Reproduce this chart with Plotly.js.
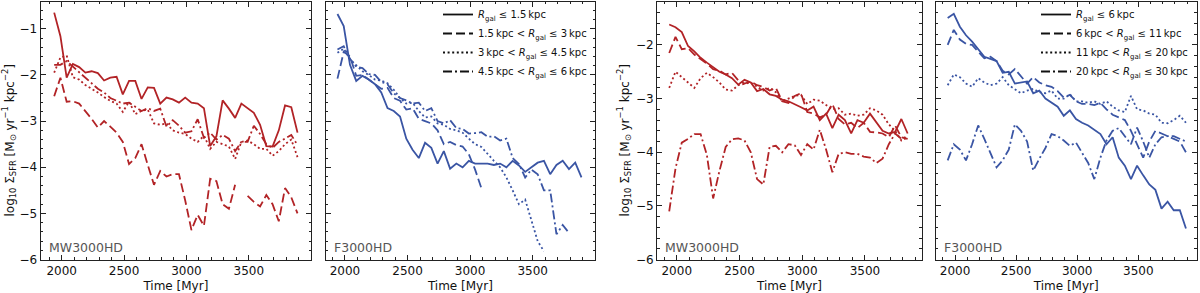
<!DOCTYPE html>
<html><head><meta charset="utf-8">
<script src="https://cdn.plot.ly/plotly-3.0.1.min.js"></script>
<style>html,body{margin:0;padding:0;background:#fff}#chart{width:1200px;height:293px}</style>
</head><body><div id="chart"></div>
<script>
// Time axis (Myr)
const timeA = [1940,1990,2040,2090,2140,2190,2240,2290,2340,2390,2440,2490,2540,2590,2640,2690,2740,2790,2840,2890,2940,2990,3040,3090,3140,3190,3240,3290,3340,3390,3440,3490,3540,3590,3640,3690,3740,3790,3840,3890];
const timeB = [1940,1990,2040,2090,2140,2190,2240,2290,2340,2390,2440,2490,2540,2590,2640,2690,2740,2790,2840,2890,2940,2990,3040,3090,3140,3190,3240,3290,3340,3390,3440,3490,3540,3590,3640,3690,3740,3790,3840];

// MW3000HD, inner radial bins (panel 1)
const mwInner_r1 = [-0.65,-1.16,-2.06,-1.76,-1.83,-1.95,-1.92,-1.96,-2.12,-2.06,-2.04,-2.42,-2.13,-2.13,-2.52,-2.27,-2.28,-2.62,-2.49,-2.53,-2.6,-2.49,-2.6,-2.62,-2.72,-3.54,-3.33,-2.55,-2.73,-2.93,-2.62,-2.72,-2.82,-3.08,-3.54,-3.55,-3.2,-2.66,-2.7,-3.25];
const mwInner_r2 = [-2.46,-2.06,-2.58,-2.57,-2.62,-2.78,-2.95,-3.14,-3.0,-3.12,-3.25,-3.45,-3.93,-3.8,-3.5,-3.95,-4.38,-4.08,-4.2,-4.15,-4.15,-4.72,-5.36,-5.03,-5.27,-4.25,-4.3,-4.8,-4.9,-4.38,null,-4.62,-4.75,-4.85,-4.6,-4.8,-5.17,-4.45,-4.65,-5.0];
const mwInner_r3 = [-1.95,-1.62,-1.58,-2.05,-2.1,-2.22,-2.3,-2.38,-2.48,-2.56,-2.62,-2.8,-2.58,-2.85,-2.78,-2.75,-3.05,-3.08,-3.05,-3.2,-3.25,-3.28,-3.38,-3.45,-3.32,-3.6,-3.45,-3.5,-3.55,-3.82,-3.45,-3.42,-3.5,-3.6,-3.6,-3.75,-3.65,-3.5,-3.4,-3.78];
const mwInner_r4 = [-1.78,-1.78,-1.7,-1.82,-1.95,-2.06,-2.17,-2.3,-2.38,-2.5,-2.56,-2.62,-2.6,-2.7,-2.78,-2.72,-2.78,-2.73,-3.12,-2.98,-3.1,-3.25,-3.22,-2.96,-3.36,-3.25,-3.4,-3.3,-3.38,-3.65,-3.45,-3.45,-3.1,-3.28,-3.5,-3.58,-3.45,-3.38,-3.3,-3.52];

// F3000HD, inner radial bins (panel 2)
const fInner_r1 = [-0.68,-0.94,-1.78,-2.13,-2.02,-2.1,-2.2,-2.38,-2.72,-2.78,-2.9,-3.38,-3.62,-3.8,-3.47,-3.58,-3.92,-3.65,-4.03,-3.92,-4.0,-3.86,-3.92,-3.92,-3.92,-3.95,-3.92,-4.0,-3.86,-3.96,-4.1,-4.0,-3.9,-3.86,-4.15,-3.95,-3.86,-4.04,-3.9,-4.22];
const fInner_r2 = [-2.08,-1.5,-1.6,-2.02,-2.0,-2.1,-2.2,-2.3,-2.28,-2.5,-2.56,-2.75,-2.72,-2.95,-3.0,-3.05,-3.2,-3.5,-3.45,-3.52,-3.55,-3.72,-4.05,-4.45,null,null,null,null,null,null,null,null,null,null,null,null,null,null,null,null];
const fInner_r3 = [-1.52,-1.43,-1.66,-1.8,-1.92,-2.0,-2.1,-2.12,-2.18,-2.32,-2.5,-2.62,-2.6,-2.78,-2.92,-2.9,-3.05,-3.08,-3.17,-3.2,-3.25,-3.38,-3.5,-3.56,-3.72,-3.86,-4.0,-4.22,-4.5,-4.8,-4.7,-5.15,-5.6,-5.82,null,null,null,null,null,null];
const fInner_r4 = [-1.45,-1.38,-1.65,-1.82,-1.85,-1.98,-2.0,-2.15,-2.2,-2.4,-2.5,-2.55,-2.62,-2.6,-2.78,-2.72,-3.0,-3.05,-2.98,-3.15,-3.17,-3.27,-3.26,-3.24,-3.34,-3.33,-3.42,-3.38,-3.8,-3.93,-4.22,-4.05,-4.15,-4.5,-4.5,-5.45,-5.25,-5.42,null,null];

// MW3000HD, outer radial bins (panel 3)
const mwOuter_r1 = [-1.62,-1.67,-1.76,-2.02,-2.12,-2.24,-2.33,-2.42,-2.5,-2.55,-2.62,-2.74,-2.65,-2.7,-2.86,-2.82,-2.92,-2.95,-3.02,-3.05,-3.1,-3.16,-3.22,-3.15,-3.4,-3.28,-3.55,-3.3,-3.4,-3.65,-3.4,-3.45,-3.28,-3.45,-3.6,-3.65,-3.62,-3.38,-3.65];
const mwOuter_r2 = [-2.15,-1.85,-2.08,-2.06,-2.18,-2.26,-2.35,-2.45,-2.48,-2.55,-2.52,-2.66,-2.72,-2.68,-2.75,-2.78,-2.85,-2.8,-3.05,-3.08,-2.95,-2.9,-3.25,-3.28,-3.35,-3.3,-3.1,-3.38,-3.48,-3.45,-3.55,-3.45,-3.62,-3.63,-3.65,-3.72,-3.5,-3.72,-3.75];
const mwOuter_r3 = [-2.8,-2.5,-2.6,-2.7,-2.8,-2.62,-2.52,-2.6,-2.7,-2.83,-2.85,-2.75,-2.72,-2.7,-2.78,-2.85,-2.8,-2.88,-3.05,-3.0,-2.95,-2.93,-3.1,-3.02,-3.04,-3.12,-3.2,-3.18,-3.3,-3.28,-3.32,-3.3,-3.18,-3.22,-3.3,-3.48,-3.6,-3.78,-3.72];
const mwOuter_r4 = [-5.1,-4.3,-3.82,-3.75,-3.66,-3.66,-4.05,-4.86,-4.35,-3.9,-3.76,-3.74,-3.78,-4.0,-4.5,-4.6,-3.9,-3.88,-4.0,-3.85,-3.87,-4.05,-3.85,-3.95,-3.58,-3.95,-4.37,-4.03,-4.0,-4.03,-4.03,-4.08,-4.1,-4.2,-4.12,-3.85,-3.65,-3.75,-3.7];

// F3000HD, outer radial bins (panel 4)
const fOuter_r1 = [-1.5,-1.42,-1.66,-1.82,-1.94,-2.08,-2.22,-2.26,-2.3,-2.52,-2.5,-2.72,-2.7,-2.68,-2.9,-2.85,-3.0,-3.08,-3.15,-3.32,-3.22,-3.38,-3.45,-3.5,-3.58,-3.66,-3.85,-3.72,-4.1,-4.25,-4.5,-4.25,-4.43,-4.6,-4.7,-5.05,-4.92,-5.08,-5.08,-5.42];
const fOuter_r2 = [-2.0,-1.72,-1.9,-1.98,-2.0,-2.12,-2.25,-2.22,-2.3,-2.48,-2.55,-2.45,-2.58,-2.72,-2.6,-2.7,-2.75,-2.78,-2.86,-2.98,-2.93,-3.05,-3.1,-3.1,-3.12,-3.08,-3.2,-3.3,-3.35,-3.4,-3.6,-3.85,-4.1,-3.8,-3.6,-3.65,-3.7,-3.75,-3.8,-4.0];
const fOuter_r3 = [-2.75,-2.55,-2.6,-2.72,-2.78,-2.62,-2.7,-2.75,-2.72,-2.6,-2.75,-2.82,-2.9,-2.85,-2.82,-2.88,-2.9,-2.85,-3.0,-3.0,-2.92,-3.05,-3.05,-3.08,-3.05,-3.1,-3.05,-3.15,-3.22,-3.25,-2.95,-3.2,-3.22,-3.28,-3.3,-3.45,-3.46,-3.4,-3.32,-3.45];
const fOuter_r4 = [-4.15,-3.85,-3.95,-4.15,-3.85,-3.5,-3.75,-4.0,-4.28,-4.15,-3.95,-3.48,-3.6,-3.8,-4.34,-4.12,-3.92,-3.66,-3.7,-3.78,-3.88,-3.82,-4.0,-4.2,-4.5,-4.1,-3.78,-3.6,-3.55,-3.7,-3.85,-3.54,-3.8,-4.1,-3.85,-3.72,-3.7,-3.7,-3.75,-3.8];

const innerLabels = [
  '<i>R</i><sub>gal</sub> ≤ 1.5\u2009kpc',
  '1.5\u2009kpc < <i>R</i><sub>gal</sub> ≤ 3\u2009kpc',
  '3\u2009kpc < <i>R</i><sub>gal</sub> ≤ 4.5\u2009kpc',
  '4.5\u2009kpc < <i>R</i><sub>gal</sub> ≤ 6\u2009kpc'
];
const outerLabels = [
  '<i>R</i><sub>gal</sub> ≤ 6\u2009kpc',
  '6\u2009kpc < <i>R</i><sub>gal</sub> ≤ 11\u2009kpc',
  '11\u2009kpc < <i>R</i><sub>gal</sub> ≤ 20\u2009kpc',
  '20\u2009kpc < <i>R</i><sub>gal</sub> ≤ 30\u2009kpc'
];
const panelNames = ['MW3000HD','F3000HD','MW3000HD','F3000HD'];

const RED = '#b22326', BLUE = '#3a55a4';
const DASHES = ['solid','9px,4px','2px,2.6px','9px,3px,2px,3px'];
const LW = 1.8;

const traces = [];
function addSeries(t, series, color, xa, ya) {
  series.forEach((s, i) => {
    traces.push({x: t, y: s, type: 'scatter', mode: 'lines', xaxis: xa, yaxis: ya,
      line: {color: color, width: LW, dash: DASHES[i]}, showlegend: false, hoverinfo: 'skip'});
  });
}
addSeries(timeA, [mwInner_r1, mwInner_r2, mwInner_r3, mwInner_r4], RED, 'x', 'y');
addSeries(timeA, [fInner_r1, fInner_r2, fInner_r3, fInner_r4], BLUE, 'x2', 'y2');
addSeries(timeB, [mwOuter_r1, mwOuter_r2, mwOuter_r3, mwOuter_r4], RED, 'x3', 'y3');
addSeries(timeA, [fOuter_r1, fOuter_r2, fOuter_r3, fOuter_r4], BLUE, 'x4', 'y4');

// legend entries (black line samples)
function addLegend(labels, xa, ya, lg) {
  labels.forEach((lab, i) => {
    traces.push({x: [null], y: [null], type: 'scatter', mode: 'lines', xaxis: xa, yaxis: ya,
      name: lab, legend: lg, line: {color: '#111', width: LW, dash: DASHES[i]}, showlegend: true});
  });
}
addLegend(innerLabels, 'x2', 'y2', 'legend');
addLegend(outerLabels, 'x4', 'y4', 'legend2');

const W = 1200, H = 293;
const yTop = 1 - 1/H, yBot = 1 - 259.5/H;
const panels = [
  {dom: [40.7/W, 311/W], xr: [1832, 3998], yr: [-6, -0.42], lab: true},
  {dom: [325.7/W, 595/W], xr: [1846, 3998], yr: [-6, -0.42], lab: false},
  {dom: [657.3/W, 921.7/W], xr: [1845, 3952], yr: [-6, -1.2], lab: true},
  {dom: [935.7/W, 1196.7/W], xr: [1842, 3978], yr: [-6, -1.2], lab: false}
];
const FONT = 'DejaVu Sans, sans-serif';
const AX = '#222';
const LEGFONT = {family: FONT, size: 10, color: '#111'};
const layout = {
  width: W, height: H, margin: {l: 0, r: 0, t: 0, b: 0},
  paper_bgcolor: '#fff', plot_bgcolor: '#fff',
  font: {family: FONT, size: 12, color: '#111'},
  showlegend: true,
  legend: {x: 592/W, xanchor: 'right', y: 1 + 1.5/H, yanchor: 'top', bgcolor: 'rgba(0,0,0,0)',
    font: LEGFONT, tracegroupgap: 0, itemwidth: 30},
  legend2: {x: 1193/W, xanchor: 'right', y: 1 + 1.5/H, yanchor: 'top', bgcolor: 'rgba(0,0,0,0)',
    font: LEGFONT, tracegroupgap: 0, itemwidth: 30},
  annotations: [], shapes: []
};
panels.forEach((p, i) => {
  const n = i === 0 ? '' : String(i + 1);
  layout['xaxis' + n] = {
    domain: p.dom, range: p.xr, anchor: 'y' + n, showgrid: false, zeroline: false,
    showline: true, linecolor: AX, linewidth: 1.2, mirror: 'allticks',
    ticks: 'inside', ticklen: 5, tickwidth: 1, tickcolor: AX, dtick: 500, tick0: 2000,
    minor: {dtick: 100, ticklen: 2.5, tickwidth: 1, tickcolor: AX, ticks: 'inside'},
    tickfont: {family: FONT, size: 12, color: '#111'},
    title: {text: 'Time [Myr]', font: {family: FONT, size: 12, color: '#111'}, standoff: 4},
    automargin: false, fixedrange: true
  };
  layout['yaxis' + n] = {
    domain: [yBot, yTop], range: p.yr, anchor: 'x' + n, showgrid: false, zeroline: false,
    showline: true, linecolor: AX, linewidth: 1.2, mirror: 'allticks',
    ticks: 'inside', ticklen: 5, tickwidth: 1, tickcolor: AX, dtick: 1, tick0: 0,
    minor: {dtick: 0.2, ticklen: 2.5, tickwidth: 1, tickcolor: AX, ticks: 'inside'},
    showticklabels: p.lab, tickfont: {family: FONT, size: 12, color: '#111'},
    automargin: false, fixedrange: true
  };
  layout.annotations.push({
    xref: 'paper', yref: 'paper', x: p.dom[0] + 6/W, y: 1 - 247/H, xanchor: 'left', yanchor: 'middle',
    text: panelNames[i], showarrow: false, font: {family: FONT, size: 12.5, color: '#555'}
  });
});
const ytitle = 'log<sub>10</sub> Σ<sub>SFR</sub> [M<sub>⊙</sub> yr<sup>−1</sup> kpc<sup>−2</sup>]';
[9, 624].forEach(xp => {
  layout.annotations.push({xref: 'paper', yref: 'paper', x: xp/W, y: 1 - 140/H, xanchor: 'center', yanchor: 'middle',
    text: ytitle, textangle: -90, showarrow: false, font: {family: FONT, size: 12, color: '#111'}});
});
Plotly.newPlot('chart', traces, layout, {staticPlot: true, displayModeBar: false});
</script>
</body></html>
